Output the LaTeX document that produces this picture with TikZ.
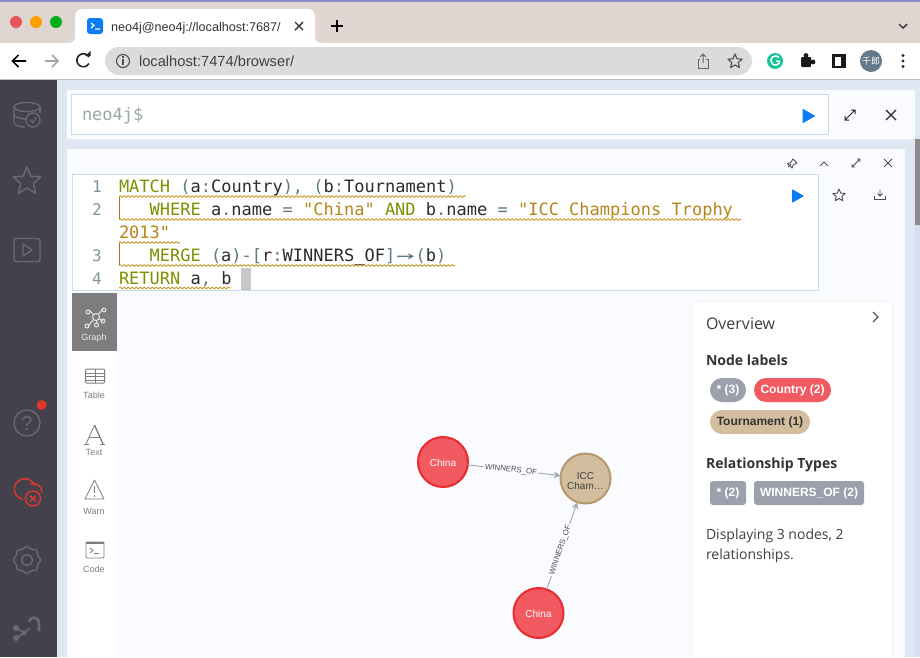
\documentclass[tikz,border=0pt]{standalone}
\usepackage{fontspec}
\usetikzlibrary{arrows.meta,shapes.geometric,decorations.pathmorphing}
\newfontfamily\lsans{Liberation Sans}
\newfontfamily\osans{Open Sans}
\newfontfamily\dmono{DejaVu Sans Mono}
\newfontfamily\cjkface{Noto Sans CJK SC}
\definecolor{bgmain}{HTML}{DFE8F2}
\definecolor{panel}{HTML}{F9FBFE}
\definecolor{boxline}{HTML}{C9DCEC}
\definecolor{side}{HTML}{45414C}
\definecolor{sideicon}{HTML}{6B6970}
\definecolor{tabbar}{HTML}{DFD6D1}
\definecolor{kwd}{HTML}{7F8F00}
\definecolor{strg}{HTML}{B5851A}
\definecolor{pun}{HTML}{5F7A86}
\definecolor{ident}{HTML}{2B2B2B}
\definecolor{squig}{HTML}{C8951F}
\definecolor{railicon}{HTML}{7D7D7D}
\definecolor{pillgray}{HTML}{9CA0AC}
\definecolor{countryfill}{HTML}{F25A61}
\definecolor{countryline}{HTML}{EB2A30}
\definecolor{tourfill}{HTML}{D2BD9F}
\definecolor{tourline}{HTML}{B5986C}
\definecolor{edgecol}{HTML}{A5ABB6}
\definecolor{play}{HTML}{0A7CF5}
\definecolor{promptc}{HTML}{9AA8A8}
\definecolor{errred}{HTML}{E0392B}
\newcommand{\kwt}[1]{\textcolor{kwd}{#1}}
\newcommand{\strt}[1]{\textcolor{strg}{#1}}
\newcommand{\pnc}[1]{\textcolor{pun}{#1}}
\newcommand{\fs}[1]{\fontsize{#1}{#1}\selectfont}
\tikzset{
  txt/.style={inner sep=0pt,outer sep=0pt,anchor=base west},
  ctxt/.style={inner sep=0pt,outer sep=0pt,anchor=base},
  code/.style={txt,font=\dmono\fs{17},text=ident},
  lineno/.style={inner sep=0pt,anchor=base east,font=\dmono\fs{16},text=pun!80},
  squiggle/.style={draw=squig,line width=0.8pt,decorate,decoration={snake,segment length=4pt,amplitude=0.9pt}},
  gutterbar/.style={draw=squig!80!black,line width=0.7pt},
  boxed/.style={draw=boxline,line width=1pt,fill=white},
  railtext/.style={ctxt,font=\lsans\fs{9},text=railicon},
  railline/.style={draw=railicon,line width=0.8pt},
  sideline/.style={draw=sideicon,line width=1.4pt},
  toolline/.style={draw=black!85,line width=1.2pt},
  smallicon/.style={draw=black!70,line width=0.9pt},
  gnode/.style={circle,minimum size=50pt,inner sep=0pt,outer sep=0pt,line width=2pt,align=center,font=\lsans\fs{10}},
  country/.style={gnode,fill=countryfill,draw=countryline,text=white},
  tournament/.style={gnode,fill=tourfill,draw=tourline,text=black!75},
  rel/.style={draw=edgecol,line width=1pt,-{Stealth[length=7pt,width=7pt]}},
  rellabel/.style={fill=panel,inner sep=1.5pt,font=\lsans\fs{7.8},text=black!70},
  pill/.style={inner sep=0pt,anchor=center,font=\lsans\bfseries\fs{12}},
  staricon/.style={star,star points=5,star point ratio=2.2,inner sep=0pt,line join=round},
  playicon/.style={fill=play,draw=play,line width=1pt,line join=round},
}
\begin{document}
\begin{tikzpicture}[x=1pt,y=-1pt]
\useasboundingbox (0,0) rectangle (920,657);
% backgrounds
\fill[bgmain] (0,0) rectangle (920,657);
\fill[tabbar] (0,2) rectangle (920,43);
\fill[black!45!blue!45] (0,0) rectangle (920,1.5);
\fill[white] (0,43) rectangle (920,79);
\fill[black!25] (0,79) rectangle (920,80);
\fill[side] (0,80) rectangle (57,657);
% tab
\fill[white] (68,43) .. controls (74,43) and (75,40) .. (75,36) -- (75,17) .. controls (75,11) and (78,9) .. (83,9)
  -- (307,9) .. controls (312,9) and (315,11) .. (315,17) -- (315,36) .. controls (315,40) and (316,43) .. (322,43) -- cycle;
\fill[fill=countryfill!95!black] (16,22) circle[radius=6];
\fill[fill=orange!75!yellow] (36,22) circle[radius=6];
\fill[fill=green!65!black!90!cyan] (56,22) circle[radius=6];
\fill[play,rounded corners=3pt] (87,18) rectangle (103,34);
\draw[white,line width=1.2pt] (91,23) -- (94,25.5) -- (91,28) (95,29) -- (100,29);
\node[txt,font=\lsans\fs{12.6},text=black!80] (tabtitle) at (111,31) {neo4j@neo4j://localhost:7687/};
\draw[black!80,line width=1.4pt] (295,22) -- (303,30) (303,22) -- (295,30);
\draw[black,line width=1.6pt] (337,20) -- (337,32) (331,26) -- (343,26);
\draw[black!80,line width=1.4pt] (899,24) -- (903,28) -- (907,24);
% nav
\draw[black,line width=1.6pt] (26,61) -- (13,61) (18.5,55) -- (12.5,61) -- (18.5,67);
\draw[black!35,line width=1.6pt] (45,61) -- (58,61) (52,55) -- (58,61) -- (52,67);
\draw[black!85,line width=1.6pt] (89,57) arc[start angle=-30,end angle=-330,radius=6.5];
\fill[black!85] (85,56) -- (90.5,56) -- (90.5,51) -- cycle;
\fill[black!14,rounded corners=14pt] (105,47) rectangle (752,75);
\draw[black!70,line width=1.1pt] (123,61) circle[radius=6.5];
\fill[black!70] (122.3,55.8) rectangle (123.7,57.6);
\fill[black!70] (122.3,59) rectangle (123.7,65);
\node[txt,font=\lsans\fs{14.7},text=black!75] (urltext) at (139,66) {localhost:7474/browser/};
\draw[black!60,line width=1pt] (700,59) -- (698,59) -- (698,68) -- (708,68) -- (708,59) -- (706,59);
\draw[black!60,line width=1pt] (703,63) -- (703,54) (700,57) -- (703,54) -- (706,57);
\node[staricon,draw=black!65,line width=1.2pt,minimum size=15pt] (bookmark) at (735,61.5) {};
\definecolor{gramm}{HTML}{15C39A}
\fill[gramm] (775,61) circle[radius=8];
\draw[white,line width=1.5pt] (779,57.5) arc[start angle=-40,end angle=-320,radius=4.6] -- (779.5,61) -- (776,61);
\fill[black!90,rounded corners=1pt] (801,57) rectangle (811,67);
\fill[black!90] (806,55.5) circle[radius=2.4] (813,62) circle[radius=2.4];
\fill[black!90] (832,54) rectangle (846,68);
\fill[white] (835,56.5) rectangle (841,65.5);
\definecolor{avatar}{HTML}{64798A}
\fill[avatar] (871,61) circle[radius=11];
\node[font=\cjkface\fs{9},text=white,inner sep=0pt] (profile) at (871,61) {千郎};
\fill[black!85] (903,55.5) circle[radius=1.6] (903,61) circle[radius=1.6] (903,66.5) circle[radius=1.6];
% sidebar icons
\draw[sideline] (14,107) -- (14,122) .. controls (14,125) and (19,127) .. (25,127);
\draw[sideline] (27,107) ellipse[x radius=13,y radius=4.6];
\draw[sideline] (14,114) .. controls (14,117) and (20,119) .. (26,119);
\draw[sideline] (40,107) -- (40,113);
\draw[sideline,fill=side] (33,120) circle[radius=7];
\draw[sideline] (30,120) -- (32.5,122.5) -- (36.5,117.5);
\node[staricon,draw=sideicon,line width=1.5pt,minimum size=29pt] (sidestar) at (27,181.5) {};
\draw[sideline,rounded corners=2pt] (14,238.5) rectangle (40,261.5);
\draw[sideline,line join=round] (23,244) -- (32,250) -- (23,256) -- cycle;
\draw[sideline] (27,423) circle[radius=13];
\node[ctxt,font=\lsans\fs{20},text=sideicon] (helpmark) at (27,430.5) {?};
\fill[errred] (41.7,405) circle[radius=5];
\draw[errred,line width=1.4pt] (23,499.5) arc[start angle=100,end angle=340,radius=10.5];
\draw[errred,line width=1.4pt] (30,484) arc[start angle=250,end angle=360,radius=9];
\draw[errred,line width=1.4pt,fill=side] (33,498.5) circle[radius=7.5];
\draw[errred,line width=1.4pt] (30,495.5) -- (36,501.5) (36,495.5) -- (30,501.5);
\node[star,star points=8,star point ratio=1.3,minimum size=29pt,inner sep=0pt,draw=sideicon,line width=1.4pt,rounded corners=2pt] (gearicon) at (27,560) {};
\draw[sideline] (27,560) circle[radius=5.5];
\draw[sideicon,line width=2.6pt] (29,622) .. controls (30,618) and (33,617.5) .. (34,617.5) .. controls (37,617.5) and (39,620) .. (39,624) -- (39,631);
\draw[sideicon,line width=1.6pt] (16,628) -- (24,633) -- (16,638) (24,633) -- (30,628);
\fill[sideicon] (16,628) circle[radius=3] (16,638) circle[radius=3] (24,633) circle[radius=2.6];
% top panel
\fill[panel,rounded corners=1pt] (67,90) rectangle (915,139);
\draw[boxed] (71.5,94.5) rectangle (828,134);
\node[txt,font=\dmono\fs{17},text=promptc] (prompt) at (82,120) {neo4j\$};
\fill[playicon] (803,109.5) -- (814.5,116) -- (803,122.5) -- cycle;
\draw[toolline,line width=1pt] (845,120) -- (855,110) (851,110) -- (855,110) -- (855,114) (845,116) -- (845,120) -- (849,120);
\draw[toolline] (886,110) -- (896,120) (896,110) -- (886,120);
% second panel
\fill[panel] (67,149) rectangle (905,657);
\fill[black!16!blue!4!bgmain] (915,139) rectangle (920,657);
\fill[black!45] (915,139) rectangle (920,225);
\draw[smallicon,line width=0.8pt] (788,167) -- (791,164) (793,159) -- (797,163) -- (793,165) -- (792,168) -- (787.5,163.5) -- (790.5,162.5) -- cycle;
\draw[smallicon] (820,166) -- (824,162) -- (828,166);
\draw[smallicon] (852,167) -- (860,159) (857,159) -- (860,159) -- (860,162) (852,164) -- (852,167) -- (855,167);
\draw[smallicon] (884,159) -- (892,167) (892,159) -- (884,167);
\draw[boxed] (72.5,174.5) rectangle (818,290.5);
\fill[playicon] (792.5,190) -- (803,196) -- (792.5,202) -- cycle;
\node[staricon,draw=black!70,line width=0.9pt,minimum size=13pt] (favstar) at (839,195.5) {};
\draw[smallicon] (880,190) -- (880,196) (877.5,193.5) -- (880,196) -- (882.5,193.5) (874.5,196) -- (874.5,199.5) -- (885.5,199.5) -- (885.5,196);
% code
\draw[squiggle] (119,196.5) -- (466,196.5);
\draw[squiggle] (119,219.5) -- (741,219.5);
\draw[squiggle] (119,242.5) -- (180,242.5);
\draw[squiggle] (119,265.5) -- (455,265.5);
\draw[squiggle] (119,288) -- (231,288);
\draw[gutterbar] (119.5,197) -- (119.5,219);
\draw[gutterbar] (119.5,243) -- (119.5,265);
\node[lineno] (ln1) at (102,192) {1};
\node[lineno] (ln2) at (102,215) {2};
\node[lineno] (ln3) at (102,261) {3};
\node[lineno] (ln4) at (102,284) {4};
\node[code] (l1) at (119,192) {\kwt{MATCH} \pnc{(}a\pnc{:}Country\pnc{),} \pnc{(}b\pnc{:}Tournament\pnc{)}};
\node[code] (l2) at (149.6,215) {\kwt{WHERE} a\pnc{.}name \pnc{=} \strt{"China"} \kwt{AND} b\pnc{.}name \pnc{=} \strt{"ICC Champions Trophy}};
\node[code] (l2b) at (119,238) {\strt{2013"}};
\node[code] (l3) at (149.6,261) {\kwt{MERGE} \pnc{(}a\pnc{)-[}r\pnc{:}WINNERS\_OF\pnc{]}\makebox[20.4pt][c]{\scalebox{1.8}[1]{\pnc{→}}}\pnc{(}b\pnc{)}};
\node[code] (l4) at (119,284) {\kwt{RETURN} a\pnc{,} b};
\fill[black!22] (241,268) rectangle (251,290);
% rail
\fill[white] (72,293) rectangle (117,657);
\fill[railicon] (72,293) rectangle (117,351);
\draw[white!85!gray,line width=0.9pt] (96,317) -- (89,310) (96,317) -- (103,309) (96,317) -- (103,321) (96,317) -- (97,324) (96,317) -- (88,326);
\fill[railicon] (96,317) circle[radius=3.5];
\draw[white!85!gray,line width=0.9pt] (96,317) circle[radius=3.5] (88,312) circle[radius=2] (104,310) circle[radius=2] (103,321) circle[radius=2] (96.5,325) circle[radius=2] (87,326) circle[radius=2];
\node[railtext,text=white!85!gray] (tgraph) at (94,340) {Graph};
\draw[railline,rounded corners=1pt,line width=1pt] (85.5,369) rectangle (104.5,383);
\draw[railline,line width=1pt] (85.5,373) -- (104.5,373) (85.5,376.5) -- (104.5,376.5) (85.5,380) -- (104.5,380) (95,369) -- (95,383);
\node[railtext] (ttable) at (94,398) {Table};
\draw[railline] (86,444) -- (94.5,425);
\draw[railline,line width=1.3pt] (94.5,425) -- (103,444);
\draw[railline] (89,437) -- (100,437) (84,444) -- (89,444) (100,444) -- (105,444);
\node[railtext] (ttext) at (94,455) {Text};
\draw[railline,line join=round] (94.5,480) -- (104,499) -- (85,499) -- cycle;
\draw[railline] (94.5,486) -- (94.5,493) (94.5,495) -- (94.5,496.5);
\node[railtext] (twarn) at (94,514) {Warn};
\draw[railline,rounded corners=1pt] (86,542) rectangle (104,558);
\fill[railicon] (86,542) rectangle (104,544);
\draw[railline] (90,548) -- (93,550.5) -- (90,553) (94,553.5) -- (99,553.5);
\node[railtext] (tcode) at (94,572) {Code};
% graph
\node[country] (ca) at (443,462) {\rule{0pt}{10pt}China};
\node[tournament] (icc) at (585.5,478.5) {\rule{0pt}{13pt}ICC\\Cham\ldots};
\node[country] (cb) at (538.5,613) {\rule{0pt}{10pt}China};
\draw[rel] (ca) -- (icc);
\draw[rel] (cb) -- (icc);
\node[rellabel,rotate=-6.4] (la) at (511,470) {WINNERS\_OF};
\node[rellabel,rotate=70.7] (lb) at (560.5,550) {WINNERS\_OF};
% overview
\fill[white] (692,301) rectangle (892,657);
\draw[black!4,line width=0.8pt] (692,657) -- (692,301) -- (892,301) -- (892,657);
\draw[black!65,line width=1.3pt] (873,312) -- (878,317) -- (873,322);
\node[txt,font=\osans\fs{16},text=black!75] (ovtitle) at (706,329) {Overview};
\node[txt,font=\osans\bfseries\fs{14},text=black!80] (nltitle) at (706,365) {Node labels};
\fill[pillgray,rounded corners=12pt] (710,378) rectangle (746,402);
\node[pill,text=white] (p1) at (728,390) {* (3)};
\fill[countryfill,rounded corners=12pt] (754,378) rectangle (831,402);
\node[pill,text=white] (p2) at (792.5,390) {Country (2)};
\fill[tourfill,rounded corners=12pt] (710,410) rectangle (810,434);
\node[pill,text=black!80] (p3) at (760,422) {Tournament (1)};
\node[txt,font=\osans\bfseries\fs{14},text=black!80] (rttitle) at (706,468) {Relationship Types};
\fill[pillgray,rounded corners=3pt] (710,481) rectangle (746,505);
\node[pill,text=white] (p4) at (728,493) {* (2)};
\fill[pillgray,rounded corners=3pt] (754,481) rectangle (864,505);
\node[pill,text=white] (p5) at (809,493) {WINNERS\_OF (2)};
\node[txt,font=\osans\fs{14},text=black!75] (disp1) at (706,539) {Displaying 3 nodes, 2};
\node[txt,font=\osans\fs{14},text=black!75] (disp2) at (706,559) {relationships.};
\end{tikzpicture}
\end{document}
